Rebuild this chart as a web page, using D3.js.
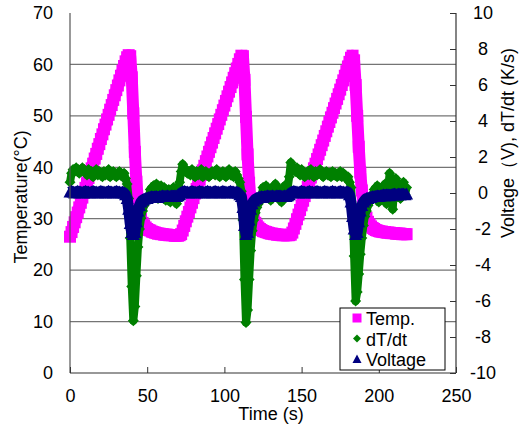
<!DOCTYPE html>
<html>
<head>
<meta charset="utf-8">
<script src="https://cdnjs.cloudflare.com/ajax/libs/d3/7.8.5/d3.min.js"></script>
<style>
  body { margin: 0; background: #fff; }
  svg text { font-family: "Liberation Sans", Arial, sans-serif; fill: #000; }
</style>
</head>
<body>
<div id="chart"></div>
<script>
// samples taken once per second, t = 0 .. 218 s
var temp = [
  26.5, 27.4, 28.4, 29.3, 30.3, 31.2, 32.2, 33.1, 34.1, 35.0,
  36.0, 36.9, 37.9, 38.8, 39.8, 40.7, 41.7, 42.6, 43.6, 44.5,
  45.5, 46.4, 47.4, 48.3, 49.3, 50.2, 51.2, 52.1, 53.1, 54.0,
  55.0, 55.9, 56.9, 57.8, 58.8, 59.7, 60.6, 61.4, 61.8, 61.6,
  57.5, 50.5, 43.0, 37.2, 33.6, 31.4, 30.0, 29.2, 28.7, 28.3,
  28.0, 27.8, 27.7, 27.5, 27.4, 27.3, 27.2, 27.1, 27.1, 27.0,
  27.0, 26.9, 26.9, 26.9, 26.8, 26.8, 26.8, 26.8, 26.7, 26.7,
  26.7, 26.8, 27.0, 27.7, 28.6, 29.5, 30.4, 31.3, 32.2, 33.1,
  34.0, 34.9, 35.8, 36.7, 37.6, 38.5, 39.4, 40.3, 41.2, 42.1,
  43.0, 43.9, 44.8, 45.7, 46.6, 47.5, 48.4, 49.3, 50.2, 51.1,
  52.0, 52.9, 53.8, 54.7, 55.6, 56.5, 57.4, 58.3, 59.2, 60.1,
  61.0, 61.7, 61.6, 57.0, 49.8, 42.5, 37.0, 33.5, 31.3, 30.0,
  29.2, 28.7, 28.3, 28.0, 27.8, 27.6, 27.5, 27.4, 27.3, 27.2,
  27.1, 27.1, 27.0, 27.0, 26.9, 26.9, 26.9, 26.8, 26.8, 26.8,
  26.8, 26.8, 26.8, 26.9, 27.3, 28.1, 29.0, 29.9, 30.8, 31.7,
  32.6, 33.5, 34.4, 35.3, 36.2, 37.1, 38.0, 38.9, 39.8, 40.7,
  41.6, 42.5, 43.4, 44.3, 45.2, 46.1, 47.0, 47.9, 48.8, 49.7,
  50.6, 51.5, 52.4, 53.3, 54.2, 55.1, 56.0, 56.9, 57.8, 58.7,
  59.6, 60.5, 61.3, 61.7, 60.8, 56.0, 50.0, 44.0, 39.0, 35.5,
  33.0, 31.3, 30.2, 29.4, 28.9, 28.5, 28.2, 28.0, 27.8, 27.7,
  27.6, 27.5, 27.5, 27.4, 27.4, 27.3, 27.3, 27.3, 27.2, 27.2,
  27.2, 27.1, 27.1, 27.1, 27.1, 27.0, 27.0, 27.0, 27.0
];

var dtdt = [
  0.6, 1.1, 1.3, 1.2, 1.4, 1.3, 1.1, 1.2, 1.4, 1.3,
  1.2, 1.0, 1.3, 1.1, 1.2, 0.9, 1.1, 1.3, 1.0, 1.2,
  1.1, 0.9, 1.2, 1.0, 1.1, 1.3, 0.9, 1.0, 1.2, 1.1,
  0.9, 1.0, 1.2, 1.0, 0.9, 1.1, 0.8, 0.5, -0.3, -2.5,
  -5.2, -7.1, -6.3, -4.6, -3.0, -2.0, -1.4, -1.0, -0.7, -0.5,
  -0.4, -0.3, 0.2, -0.2, 0.4, -0.1, 0.5, -0.3, 0.1, 0.4,
  -0.2, 0.3, -0.4, 0.0, 0.2, -0.5, 0.1, 0.3, -0.3, -0.6,
  0.2, 0.6, 1.2, 1.6, 1.4, 1.3, 1.1, 1.2, 1.0, 1.3,
  1.1, 0.9, 1.2, 1.0, 1.1, 1.3, 0.9, 1.0, 1.2, 1.1,
  0.9, 1.0, 1.2, 1.1, 1.0, 1.3, 1.0, 0.9, 1.1, 1.2,
  1.0, 0.9, 1.1, 1.3, 1.0, 1.1, 0.9, 1.2, 1.0, 0.8,
  0.6, 0.1, -1.5, -4.8, -7.2, -6.5, -4.8, -3.2, -2.1, -1.5,
  -1.1, -0.8, -0.6, -0.4, -0.3, 0.3, -0.2, 0.4, -0.1, 0.2,
  -0.4, 0.3, -0.2, 0.5, 0.0, -0.3, 0.2, -0.5, 0.1, 0.4,
  -0.2, 0.3, 0.9, 1.7, 1.5, 1.3, 1.2, 1.4, 1.1, 1.0,
  1.3, 1.2, 0.9, 1.1, 1.2, 1.0, 1.3, 1.1, 0.9, 1.2,
  1.0, 1.1, 1.3, 1.0, 0.9, 1.1, 1.2, 1.0, 1.1, 0.9,
  1.2, 1.0, 1.1, 0.9, 1.0, 1.2, 0.9, 1.1, 1.0, 0.8,
  0.9, 0.6, 0.3, -0.8, -3.5, -6.0, -5.5, -4.5, -3.4, -2.5,
  -1.8, -1.3, -1.0, -0.7, -0.5, -0.4, -0.3, 0.2, -0.2, 0.4,
  -0.5, 0.1, 0.3, -0.3, 0.5, -0.6, 0.2, 1.1, 0.4, -0.9,
  0.3, 0.8, -0.2, 0.5, -0.3, 0.2, 0.6, -0.1, 0.3
];

var volt = [
  0.05, 0.1, 0.05, 0.0, 0.05, 0.1, 0.05, 0.05, 0.0, 0.05,
  0.1, 0.05, 0.05, 0.0, 0.05, 0.1, 0.05, 0.05, 0.0, 0.05,
  0.1, 0.05, 0.05, 0.0, 0.05, 0.1, 0.05, 0.05, 0.0, 0.05,
  0.1, 0.05, 0.05, 0.0, 0.05, 0.0, -0.1, -0.3, -0.9, -1.7,
  -2.2, -2.3, -2.2, -1.6, -1.0, -0.7, -0.5, -0.4, -0.35, -0.3,
  -0.3, -0.25, -0.25, -0.2, -0.25, -0.2, -0.2, -0.25, -0.2, -0.2,
  -0.15, -0.2, -0.2, -0.15, -0.2, -0.2, -0.15, -0.2, -0.15, -0.2,
  -0.15, -0.1, 0.0, 0.05, 0.1, 0.05, 0.05, 0.0, 0.05, 0.1,
  0.05, 0.05, 0.0, 0.05, 0.1, 0.05, 0.05, 0.0, 0.05, 0.1,
  0.05, 0.05, 0.0, 0.05, 0.1, 0.05, 0.05, 0.0, 0.05, 0.1,
  0.05, 0.05, 0.0, 0.05, 0.1, 0.05, 0.05, 0.0, 0.05, 0.0,
  -0.1, -0.2, -0.8, -1.8, -2.3, -2.2, -1.5, -0.9, -0.6, -0.45,
  -0.35, -0.3, -0.25, -0.25, -0.2, -0.25, -0.2, -0.2, -0.15, -0.2,
  -0.2, -0.15, -0.2, -0.2, -0.15, -0.2, -0.15, -0.2, -0.2, -0.15,
  -0.2, -0.15, -0.1, 0.0, 0.05, 0.1, 0.05, 0.05, 0.0, 0.05,
  0.1, 0.05, 0.05, 0.0, 0.05, 0.1, 0.05, 0.05, 0.0, 0.05,
  0.1, 0.05, 0.05, 0.0, 0.05, 0.1, 0.05, 0.05, 0.0, 0.05,
  0.1, 0.05, 0.05, 0.0, 0.05, 0.1, 0.05, 0.05, 0.0, 0.05,
  0.05, -0.1, -0.5, -1.3, -2.0, -2.3, -2.2, -1.6, -1.0, -0.7,
  -0.5, -0.4, -0.3, -0.3, -0.25, -0.25, -0.2, -0.2, -0.2, -0.15,
  -0.2, -0.15, -0.15, -0.1, -0.15, -0.1, -0.1, -0.15, -0.1, -0.1,
  -0.05, -0.1, -0.1, -0.05, -0.1, -0.05, -0.05, -0.1, -0.05
];

var xTicks = [0, 50, 100, 150, 200, 250];
var yLeftTicks = [0, 10, 20, 30, 40, 50, 60, 70];
var yRightTicks = [-10, -8, -6, -4, -2, 0, 2, 4, 6, 8, 10];
var legendLabels = ["Temp.", "dT/dt", "Voltage"];

var width = 519, height = 432;
var margin = {top: 13, right: 63, bottom: 59, left: 70};
var plotW = width - margin.left - margin.right,
    plotH = height - margin.top - margin.bottom;

// plain hyphen for negatives, like the original
var fmt = function(d) { return String(d); };

var svg = d3.select("#chart").append("svg")
    .attr("width", width)
    .attr("height", height);

var g = svg.append("g")
    .attr("transform", "translate(" + margin.left + "," + margin.top + ")");

var x = d3.scaleLinear().domain([0, 250]).range([0, plotW]);
var yL = d3.scaleLinear().domain([0, 70]).range([plotH, 0]);
var yR = d3.scaleLinear().domain([-10, 10]).range([plotH, 0]);

// gridlines from the left axis
g.append("g")
    .selectAll("line")
    .data(yLeftTicks.slice(1, -1))
    .enter().append("line")
    .attr("x1", 0).attr("x2", plotW)
    .attr("y1", function(d) { return yL(d); })
    .attr("y2", function(d) { return yL(d); })
    .attr("stroke", "#747474")
    .attr("stroke-width", 1.3);

// series: each is a dense run of markers, a same coloured line fills the gaps
function series(values, yScale, colour, lineW, shape) {
  var pts = values.map(function(v, i) { return [i, v]; });
  var line = d3.line()
      .x(function(d) { return x(d[0]); })
      .y(function(d) { return yScale(d[1]); });
  g.append("path")
      .datum(pts)
      .attr("fill", "none")
      .attr("stroke", colour)
      .attr("stroke-width", lineW)
      .attr("stroke-linejoin", "round")
      .attr("d", line);
  g.append("g")
      .selectAll("path")
      .data(pts)
      .enter().append("path")
      .attr("d", shape)
      .attr("fill", colour)
      .attr("transform", function(d) {
        return "translate(" + x(d[0]) + "," + yScale(d[1]) + ")";
      });
}

var square = "M-6,-6H6V6H-6Z";
var diamond = "M0,-5.5L5.5,0L0,5.5L-5.5,0Z";
var triangle = "M0,-6.5L6.5,5.5H-6.5Z";

series(temp, yL, "#ff00ff", 12, square);
series(dtdt, yR, "#008000", 8, diamond);
series(volt, yR, "#000080", 11, triangle);

// axis lines
g.append("line").attr("x1", 0).attr("x2", 0).attr("y1", 0).attr("y2", plotH)
    .attr("stroke", "#555").attr("stroke-width", 1.2);
g.append("line").attr("x1", plotW).attr("x2", plotW).attr("y1", 0).attr("y2", plotH)
    .attr("stroke", "#333").attr("stroke-width", 1.2);
g.append("line").attr("x1", 0).attr("x2", plotW).attr("y1", plotH).attr("y2", plotH)
    .attr("stroke", "#333").attr("stroke-width", 1.2);

// bottom axis, ticks point inward
var xAxis = g.append("g")
    .attr("transform", "translate(0," + plotH + ")")
    .call(d3.axisBottom(x).tickValues(xTicks).tickFormat(fmt)
      .tickSizeInner(-6).tickSizeOuter(0).tickPadding(16));
xAxis.select(".domain").remove();
xAxis.selectAll("line").attr("stroke", "#333");
xAxis.selectAll("text").style("font-size", "18px");

// left axis
var yAxisL = g.append("g")
    .call(d3.axisLeft(yL).tickValues(yLeftTicks).tickFormat(fmt).tickSize(0).tickPadding(17));
yAxisL.select(".domain").remove();
yAxisL.selectAll("text").style("font-size", "18px");

// right axis, ticks point inward
var yAxisR = g.append("g")
    .attr("transform", "translate(" + plotW + ",0)")
    .call(d3.axisRight(yR).tickValues(yRightTicks).tickFormat(fmt)
      .tickSizeInner(-6).tickSizeOuter(0).tickPadding(0));
yAxisR.select(".domain").remove();
yAxisR.selectAll("line").attr("stroke", "#333");
yAxisR.selectAll("text")
    .attr("x", 27)
    .attr("text-anchor", "middle")
    .style("font-size", "18px");

// axis titles
svg.append("text")
    .attr("x", margin.left + plotW / 2 + 8)
    .attr("y", 420)
    .attr("text-anchor", "middle")
    .style("font-size", "18px")
    .text("Time (s)");

svg.append("text")
    .attr("transform", "translate(27," + (margin.top + plotH / 2 + 4) + ") rotate(-90)")
    .attr("text-anchor", "middle")
    .style("font-size", "18px")
    .text("Temperature(°C)");

svg.append("text")
    .attr("transform", "translate(514,143) rotate(-90)")
    .attr("text-anchor", "middle")
    .style("font-size", "18px")
    .text("Voltage（V), dT/dt (K/s)");

// legend
var legend = svg.append("g").attr("transform", "translate(340,308)");
legend.append("rect")
    .attr("width", 105).attr("height", 62)
    .attr("fill", "#fff").attr("stroke", "#000").attr("stroke-width", 1);

var legendShapes = [
  {d: "M-4.5,-4.5H4.5V4.5H-4.5Z", c: "#ff00ff"},
  {d: "M0,-4L4,0L0,4L-4,0Z", c: "#008000"},
  {d: "M0,-4.5L4.5,4H-4.5Z", c: "#000080"}
];
var rows = legend.selectAll(".row")
    .data(legendLabels)
    .enter().append("g")
    .attr("transform", function(d, i) { return "translate(0," + (10 + i * 20.5) + ")"; });
rows.append("path")
    .attr("d", function(d, i) { return legendShapes[i].d; })
    .attr("fill", function(d, i) { return legendShapes[i].c; })
    .attr("transform", "translate(17,0)");
rows.append("text")
    .attr("x", 26)
    .attr("y", 7)
    .style("font-size", "18px")
    .text(function(d) { return d; });
</script>
</body>
</html>
